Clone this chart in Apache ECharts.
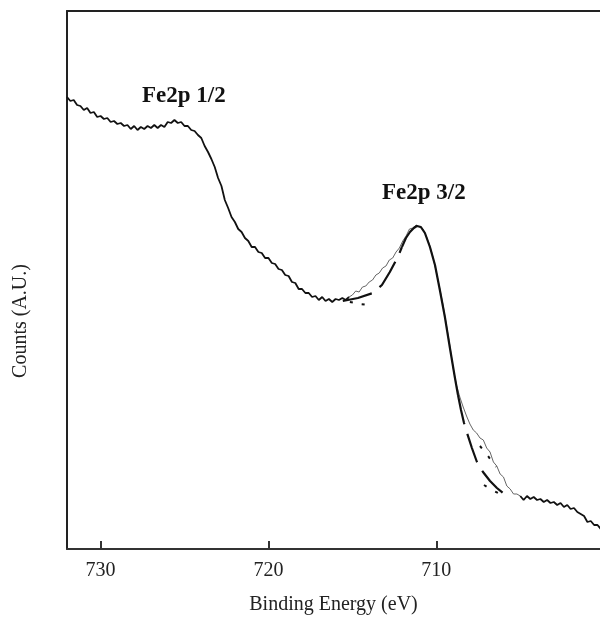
<!DOCTYPE html>
<html>
<head>
<meta charset="utf-8">
<script src="https://cdn.jsdelivr.net/npm/echarts@6/dist/echarts.min.js"></script>
<style>
  html, body { margin: 0; padding: 0; background: #fff; }
  #chart { width: 600px; height: 631px; }
</style>
</head>
<body>
<div id="chart"></div>
<script>
// Fe2p XPS spectrum, binding energy in eV, counts in arbitrary units
const tickValues = [730, 720, 710];

// measured spectrum, high energy side (thick trace)
const eHigh = [732.0, 731.8, 731.6, 731.4, 731.2, 731.0, 730.8, 730.6, 730.4, 730.2,
  730.0, 729.8, 729.6, 729.4, 729.2, 729.0, 728.8, 728.6, 728.4, 728.2,
  728.0, 727.8, 727.6, 727.4, 727.2, 727.0, 726.8, 726.6, 726.4, 726.2,
  726.0, 725.8, 725.6, 725.4, 725.2, 725.0, 724.8, 724.6, 724.4, 724.2,
  724.0, 723.8, 723.6, 723.4, 723.2, 723.0, 722.8, 722.6, 722.4, 722.2,
  722.0, 721.8, 721.6, 721.4, 721.2, 721.0, 720.8, 720.6, 720.4, 720.2,
  720.0, 719.8, 719.6, 719.4, 719.2, 719.0, 718.8, 718.6, 718.4, 718.2,
  718.0, 717.8, 717.6, 717.4, 717.2, 717.0, 716.8, 716.6, 716.4, 716.2,
  716.0, 715.8, 715.6, 715.4, 715.2];
const cHigh = [452, 448, 449, 444, 443, 439, 441, 436, 437, 432,
  433, 430, 431, 427, 428, 425, 426, 423, 424, 420,
  423, 419, 422, 420, 423, 421, 424, 421, 424, 422,
  427, 426, 429, 426, 427, 423, 423, 419, 418, 414,
  411, 403, 397, 390, 382, 371, 363, 349, 341, 332,
  327, 320, 317, 311, 308, 302, 302, 297, 296, 291,
  291, 286, 285, 280, 279, 274, 273, 267, 266, 260,
  260, 256, 256, 252, 253, 249, 252, 248, 250, 247,
  250, 249, 251, 249, 252];

// measured spectrum under the Fe2p 3/2 fit (thin trace)
const eMid = [715.2, 715.0, 714.8, 714.6, 714.4, 714.2, 714.0, 713.8, 713.6, 713.4,
  713.2, 713.0, 712.8, 712.6, 712.4, 712.2, 712.0, 711.8, 711.6, 711.4,
  711.2, 711.0, 710.8, 710.6, 710.4, 710.2, 710.0, 709.8, 709.6, 709.4,
  709.2, 709.0, 708.8, 708.6, 708.4, 708.2, 708.0, 707.8, 707.6, 707.4,
  707.2, 707.0, 706.8, 706.6, 706.4, 706.2, 706.0, 705.8, 705.6, 705.4,
  705.2, 705.0];
const cMid = [252, 254, 258, 257, 262, 263, 267, 269, 274, 276,
  281, 283, 289, 291, 297, 301, 308, 313, 320, 321,
  324, 322, 320, 313, 304, 292, 277, 261, 244, 224,
  204, 181, 164, 152, 142, 133, 125, 119, 116, 111,
  109, 101, 97, 87, 83, 75, 72, 63, 60, 55,
  55, 53];

// measured spectrum, low energy side (thick trace)
const eLow = [705.0, 704.8, 704.6, 704.4, 704.2, 704.0, 703.8, 703.6, 703.4, 703.2,
  703.0, 702.8, 702.6, 702.4, 702.2, 702.0, 701.8, 701.6, 701.4, 701.2,
  701.0, 700.8, 700.6, 700.4, 700.2];
const cLow = [53, 49, 53, 50, 52, 49, 50, 47, 49, 46,
  47, 44, 46, 42, 44, 40, 41, 37, 35, 33,
  27, 28, 24, 24, 20];

// fitted envelope: rising side (dashed), peak (solid), tail (dashed)
const eFitRise = [715.57, 714.67, 713.78, 713.24, 712.77, 712.29, 712.05];
const cFitRise = [248, 251, 256, 264, 277, 292, 302];
const eFitPeak = [712.05, 711.81, 711.57, 711.34, 711.16, 710.92, 710.68, 710.38, 710.08, 709.79,
  709.49, 709.19, 708.89, 708.71];
const cFitPeak = [302, 311, 317, 321, 323, 322, 316, 302, 284, 259,
  232, 201, 171, 154];
const eFitTail = [708.71, 708.53, 708.35, 708.17, 707.88, 707.58, 707.22, 706.80, 706.39, 706.03,
  705.61];
const cFitTail = [154, 139, 126, 116, 101, 87, 77, 68, 61, 56,
  52];

// fit components (dotted fragments)
const eCompA = [715.15, 714.55, 713.96];
const cCompA = [247, 245, 244];
const eCompB = [707.40, 706.92, 706.45];
const cCompB = [103, 93, 82];
const eCompC = [707.16, 706.68, 706.21];
const cCompC = [64, 59, 55];

const zip = (xs, ys) => xs.map((x, i) => [x, ys[i]]);

const serif = 'Liberation Serif';
const chart = echarts.init(document.getElementById('chart'), null, { renderer: 'canvas' });

const lineSeries = (data, width, color, type) => ({
  type: 'line',
  data: data,
  showSymbol: false,
  symbol: 'none',
  silent: true,
  lineStyle: { width: width, color: color, type: type || 'solid' }
});

chart.setOption({
  animation: false,
  backgroundColor: '#fff',
  grid: { left: 67, right: 0, top: 11, bottom: 82 },
  xAxis: [{
    type: 'value',
    inverse: true,
    min: 700.25,
    max: 732,
    name: 'Binding Energy (eV)',
    nameLocation: 'middle',
    nameGap: 46,
    nameTextStyle: { fontFamily: serif, fontSize: 20, color: '#222' },
    axisLine: { show: true, onZero: false, lineStyle: { color: '#333', width: 2 } },
    axisTick: { show: true, inside: true, length: 8, customValues: tickValues, lineStyle: { color: '#333', width: 2 } },
    axisLabel: { customValues: tickValues, fontFamily: serif, fontSize: 20, color: '#222', margin: 12 },
    splitLine: { show: false }
  }, {
    type: 'value',
    position: 'top',
    inverse: true,
    min: 700.25,
    max: 732,
    axisLine: { show: true, onZero: false, lineStyle: { color: '#222', width: 2 } },
    axisTick: { show: false },
    axisLabel: { show: false },
    splitLine: { show: false }
  }],
  yAxis: {
    type: 'value',
    min: 0,
    max: 538,
    axisLine: { show: true, onZero: false, lineStyle: { color: '#222', width: 2 } },
    axisTick: { show: false },
    axisLabel: { show: false },
    splitLine: { show: false }
  },
  series: [
    lineSeries(zip(eHigh, cHigh), 1.8, '#111'),
    lineSeries(zip(eMid, cMid), 1, '#666'),
    lineSeries(zip(eLow, cLow), 1.8, '#111'),
    lineSeries(zip(eFitRise, cFitRise), 2.2, '#111', [30, 10]),
    lineSeries(zip(eFitPeak, cFitPeak), 2.2, '#111'),
    lineSeries(zip(eFitTail, cFitTail), 2.2, '#111', [30, 10]),
    lineSeries(zip(eCompA, cCompA), 2, '#111', [3, 9]),
    lineSeries(zip(eCompB, cCompB), 2, '#111', [3, 10]),
    lineSeries(zip(eCompC, cCompC), 2, '#111', [3, 10])
  ],
  graphic: [
    { type: 'text', left: 142, top: 85, style: { text: 'Fe2p 1/2', fontFamily: serif, fontWeight: 'bold', fontSize: 23, fill: '#111' } },
    { type: 'text', left: 382, top: 182, style: { text: 'Fe2p 3/2', fontFamily: serif, fontWeight: 'bold', fontSize: 23, fill: '#111' } },
    { type: 'text', x: 21, y: 321, rotation: Math.PI / 2, style: { text: 'Counts (A.U.)', fontFamily: serif, fontSize: 20, fill: '#222', align: 'center', verticalAlign: 'middle' } }
  ]
});
</script>
</body>
</html>
